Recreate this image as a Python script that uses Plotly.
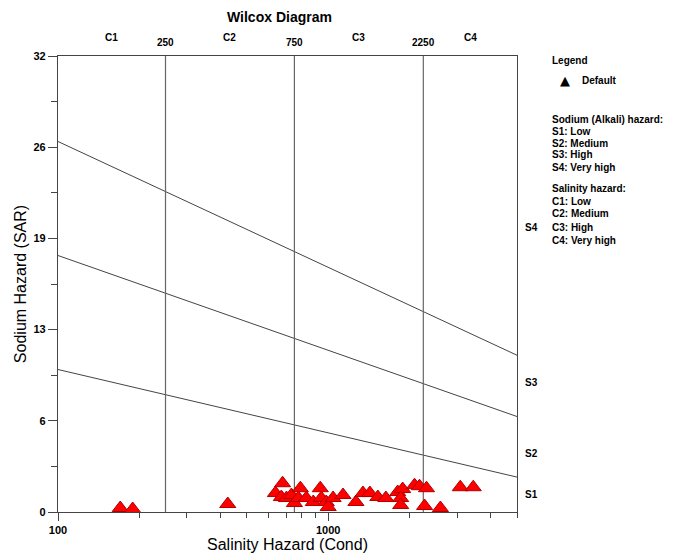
import numpy as np
import plotly.graph_objects as go

# ---- data ----
cond = [170, 189, 425, 638, 678, 671, 701, 731, 750, 776, 789, 830, 881, 935, 943,
        984, 1000, 1043, 1135, 1267, 1345, 1427, 1527, 1635, 1808, 1887, 1855, 1855,
        2088, 2179, 2312, 2274, 2603, 3083, 3444]
sar = [0.28, 0.21, 0.56, 1.33, 2.02, 1.05, 0.98, 1.19, 0.63, 0.98, 1.67, 0.98, 0.70,
       1.67, 0.98, 0.70, 0.35, 0.98, 1.19, 0.70, 1.33, 1.33, 1.05, 0.98, 1.40, 1.61,
       0.98, 0.49, 1.88, 1.81, 1.67, 0.42, 0.28, 1.74, 1.74]

line_x = [100, 5000]
line_s1s2 = [10.0, 2.45]
line_s2s3 = [18.0, 6.7]
line_s3s4 = [26.0, 11.0]

salinity_bounds = [250, 750, 2250]
salinity_labels = ["C1", "C2", "C3", "C4"]
salinity_label_x = [158, 433, 1299, 3354]
sodium_labels = ["S1", "S2", "S3", "S4"]
sodium_label_y = [1.2, 4.1, 9.1, 20.0]

y_tickvals = [0, 6.4, 12.8, 19.2, 25.6, 32]
y_ticktext = ["0", "6", "13", "19", "26", "32"]
y_minor = [3.2, 9.6, 16.0, 22.4, 28.8]
x_tickvals = [100, 1000]
x_ticktext = ["100", "1000"]
x_minor = [200, 300, 400, 500, 600, 700, 800, 900, 2000, 3000, 4000, 5000]

legend_title = "Legend"
legend_item = "Default"
sodium_block = ["Sodium (Alkali) hazard:", "S1: Low", "S2: Medium", "S3: High", "S4: Very high"]
salinity_block = ["Salinity hazard:", "C1: Low", "C2: Medium", "C3: High", "C4: Very high"]

FONT = "Liberation Sans, Arial, sans-serif"

fig = go.Figure()

# boundary lines
for ly in [line_s1s2, line_s2s3, line_s3s4]:
    fig.add_trace(go.Scatter(x=line_x, y=ly, mode="lines",
                             line=dict(color="#444444", width=1), hoverinfo="skip",
                             showlegend=False))
# vertical salinity boundaries
for b in salinity_bounds:
    fig.add_trace(go.Scatter(x=[b, b], y=[0, 32], mode="lines",
                             line=dict(color="#666666", width=1.2), hoverinfo="skip",
                             showlegend=False))

fig.add_trace(go.Scatter(x=cond, y=sar, mode="markers",
                         marker=dict(symbol="triangle-up", size=14, color="#FF0000",
                                     line=dict(color="#B00000", width=1)),
                         cliponaxis=False, showlegend=False))

# page body has an 8px offset; reference pixel coords are converted accordingly
OFF = 8
W, H = 677, 558
L, T = 58 - OFF, 56 - OFF
pw, ph = 459, 456
R = W - L - pw
B = H - T - ph

def px(xp):
    return (xp - OFF - L) / pw

def py(yp):
    return (T + ph - (yp - OFF)) / ph

ann = []
ann.append(dict(text="<b>Wilcox Diagram</b>", x=px(279), y=py(17), xref="paper", yref="paper",
                showarrow=False, font=dict(size=14, color="black", family=FONT),
                xanchor="center", yanchor="middle"))
for lab, lx in zip(salinity_labels, salinity_label_x):
    ann.append(dict(text="<b>%s</b>" % lab, x=np.log10(lx), y=1, xref="x", yref="paper",
                    yshift=19, showarrow=False, xanchor="center", yanchor="middle",
                    font=dict(size=10, color="black", family=FONT)))
for b in salinity_bounds:
    ann.append(dict(text="<b>%d</b>" % b, x=np.log10(b), y=1, xref="x", yref="paper",
                    yshift=14, showarrow=False, xanchor="center", yanchor="middle",
                    font=dict(size=10, color="black", family=FONT)))
for lab, ly in zip(sodium_labels, sodium_label_y):
    ann.append(dict(text="<b>%s</b>" % lab, x=1, y=ly, xref="paper", yref="y",
                    xshift=6, showarrow=False, xanchor="left", yanchor="middle",
                    font=dict(size=10, color="black", family=FONT)))

ann.append(dict(text="<b>%s</b>" % legend_title, x=px(550), y=py(60), xref="paper", yref="paper",
                showarrow=False, xanchor="left", yanchor="middle",
                font=dict(size=10, color="black", family=FONT)))
ann.append(dict(text="▲", x=px(565), y=py(80), xref="paper", yref="paper",
                showarrow=False, xanchor="center", yanchor="middle",
                font=dict(size=13, color="black", family="DejaVu Sans")))
ann.append(dict(text="<b>%s</b>" % legend_item, x=px(580), y=py(80), xref="paper", yref="paper",
                showarrow=False, xanchor="left", yanchor="middle",
                font=dict(size=10, color="black", family=FONT)))
for i, t in enumerate(sodium_block):
    ann.append(dict(text="<b>%s</b>" % t, x=px(550), y=py(119 + 12 * i), xref="paper",
                    yref="paper", showarrow=False, xanchor="left", yanchor="middle",
                    font=dict(size=10, color="black", family=FONT)))
for i, t in enumerate(salinity_block):
    ann.append(dict(text="<b>%s</b>" % t, x=px(550), y=py(188 + 13 * i), xref="paper",
                    yref="paper", showarrow=False, xanchor="left", yanchor="middle",
                    font=dict(size=10, color="black", family=FONT)))

fig.update_layout(
    width=W, height=H,
    margin=dict(l=L, r=R, t=T, b=B, autoexpand=False),
    paper_bgcolor="white", plot_bgcolor="white",
    font=dict(family=FONT, color="black"),
    annotations=ann,
    showlegend=False,
)
fig.update_xaxes(type="log", range=[2, np.log10(5000)], automargin=False,
                 tickvals=x_tickvals, ticktext=["<b>%s</b>" % t for t in x_ticktext],
                 ticks="outside", ticklen=8, tickcolor="#444444",
                 minor=dict(tickvals=x_minor, ticks="outside", ticklen=5, tickcolor="#444444"),
                 showgrid=False, zeroline=False,
                 showline=True, linecolor="#444444", linewidth=1.2, mirror=True,
                 tickfont=dict(size=11, color="black", family=FONT),
                 title=dict(text="Salinity Hazard (Cond)", standoff=2,
                            font=dict(size=16, color="black", family=FONT)))
fig.update_yaxes(range=[0, 32], automargin=False,
                 tickvals=y_tickvals, ticktext=["<b>%s</b>" % t for t in y_ticktext],
                 ticks="outside", ticklen=9, tickcolor="#444444",
                 minor=dict(tickvals=y_minor, ticks="outside", ticklen=6, tickcolor="#444444"),
                 showgrid=False, zeroline=False,
                 showline=True, linecolor="#444444", linewidth=1.2, mirror=True,
                 tickfont=dict(size=11, color="black", family=FONT),
                 title=dict(text="Sodium Hazard (SAR)", standoff=2,
                            font=dict(size=16, color="black", family=FONT)))

fig.write_html("out.html")
